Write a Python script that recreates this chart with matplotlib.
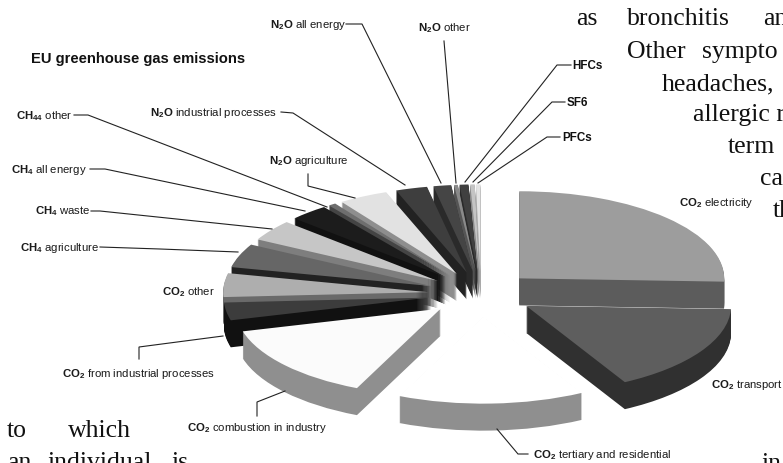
import matplotlib
matplotlib.use('Agg')
import matplotlib.pyplot as plt
import numpy as np

# --- Data ---
categories = ['CO2 electricity', 'CO2 transport', 'CO2 tertiary and residential',
              'CO2 combustion in industry', 'CO2 from industrial processes', 'CO2 other',
              'CH4 agriculture', 'CH4 waste', 'CH4 all energy', 'CH4 other',
              'N2O agriculture', 'N2O industrial processes', 'N2O all energy', 'N2O other',
              'HFCs', 'SF6', 'PFCs']
shares = [25.6, 16.4, 14.7, 14.1, 3.3, 4.4, 4.4, 3.9, 3.1, 0.6, 3.9, 2.5, 1.4, 0.3, 0.7, 0.35, 0.35]

# --- Style ---
face_colors = ['#9d9d9d', '#5e5e5e', '#ffffff', '#fbfbfb', '#3c3c3c', '#aeaeae',
               '#666666', '#c6c6c6', '#1c1c1c', '#6e6e6e', '#e2e2e2', '#3e3e3e',
               '#454545', '#8a8a8a', '#404040', '#c4c4c4', '#e4e4e4']
side_colors = ['#5c5c5c', '#303030', '#8f8f8f', '#8f8f8f', '#111111', '#6a6a6a',
               '#222222', '#7e7e7e', '#111111', '#444444', '#8e8e8e', '#222222',
               '#2a2a2a', '#555555', '#2a2a2a', '#8a8a8a', '#aaaaaa']

SQUASH = 0.425
RADIUS = 205
EXPLODE = 53
DEPTH = 27
CX, CY = 481, 295

plt.rcParams['mathtext.fontset'] = 'custom'
plt.rcParams['mathtext.bf'] = 'Liberation Sans:bold'
plt.rcParams['mathtext.rm'] = 'Liberation Sans'

fig = plt.figure(figsize=(7.83, 4.64), dpi=100, facecolor='white')
ax = fig.add_axes([0, 0, 1, 1])

# paint order: back of the pie first
vals = np.array(shares)
ends = np.cumsum(vals) / vals.sum() * 360
mids = 90 - (ends - vals / vals.sum() * 180)
order = np.argsort(np.argsort(-np.sin(np.radians(mids))))

# extrude by stacking pies, the top face comes last
for d in range(DEPTH, -1, -1):
    cols = side_colors if d > 0 else face_colors
    wedges, _ = ax.pie(vals, startangle=90, counterclock=False, radius=RADIUS,
                       center=(CX, (464 - CY - d) / SQUASH), explode=[EXPLODE] * len(vals),
                       colors=cols, wedgeprops={'linewidth': 0}, frame=True)
    for w, r in zip(wedges, order):
        w.set_zorder(r * 100 + (DEPTH - d))

ax.set_aspect('auto')
ax.set_xlim(0, 783)
ax.set_ylim(0, 464 / SQUASH)
ax.axis('off')

# overlay in pixel coordinates for the labels
ov = fig.add_axes([0, 0, 1, 1], facecolor='none')
ov.set_xlim(0, 783)
ov.set_ylim(464, 0)
ov.axis('off')

leaders = [
    [(346, 25), (362, 25), (441, 184)],
    [(444, 42), (456, 184)],
    [(571, 66), (557, 66), (465, 183)],
    [(565, 103), (552, 103), (473, 183)],
    [(560, 138), (547, 138), (478, 184)],
    [(281, 113), (293, 114), (405, 186)],
    [(308, 175), (308, 187), (355, 199)],
    [(74, 116), (88, 116), (327, 208)],
    [(90, 170), (105, 170), (305, 212)],
    [(91, 212), (100, 212), (272, 230)],
    [(100, 248), (160, 250), (238, 253)],
    [(139, 360), (139, 348), (223, 337)],
    [(257, 417), (257, 403), (285, 392)],
    [(528, 455), (518, 455), (497, 430)],
]
for pts in leaders:
    xs, ys = zip(*pts)
    ov.plot(xs, ys, color='#222222', lw=0.8, solid_joinstyle='miter')

labels = [
    (270, 25, r'$\mathbf{N_2O}$ all energy'),
    (418, 28, r'$\mathbf{N_2O}$ other'),
    (150, 113, r'$\mathbf{N_2O}$ industrial processes'),
    (269, 161, r'$\mathbf{N_2O}$ agriculture'),
    (16, 116, r'$\mathbf{CH_{44}}$ other'),
    (11, 170, r'$\mathbf{CH_4}$ all energy'),
    (35, 211, r'$\mathbf{CH_4}$ waste'),
    (20, 248, r'$\mathbf{CH_4}$ agriculture'),
    (162, 292, r'$\mathbf{CO_2}$ other'),
    (62, 374, r'$\mathbf{CO_2}$ from industrial processes'),
    (187, 428, r'$\mathbf{CO_2}$ combustion in industry'),
    (533, 455, r'$\mathbf{CO_2}$ tertiary and residential'),
    (711, 385, r'$\mathbf{CO_2}$ transport'),
    (679, 203, r'$\mathbf{CO_2}$ electricity'),
]
for x, y, s in labels:
    ov.text(x, y, s, fontsize=8.2, family='Liberation Sans', color='#1a1a1a', ha='left', va='center')

for x, y, s in [(572, 66, 'HFCs'), (567, 103, 'SF6'), (562, 138, 'PFCs')]:
    ov.text(x, y, s, fontsize=8.4, family='Liberation Sans', fontweight='bold', color='#111111',
            ha='left', va='center')

ov.text(31, 59, 'EU greenhouse gas emissions', fontsize=10.6, family='Liberation Sans',
        fontweight='bold', color='#111111', ha='left', va='center')

# page text running around the chart, cut by the page edge as in the scan
body = [(576, 25, 'as'), (627, 25, 'bronchitis'), (763, 25, 'an'),
        (627, 58, 'Other'), (702, 58, 'sympto'),
        (662, 90, 'headaches,'),
        (693, 121, 'allergic r'),
        (728, 153, 'term'),
        (760, 185, 'ca'),
        (773, 217, 'th'),
        (7, 437, 'to'), (68, 437, 'which'),
        (7, 469, 'an'), (48, 469, 'individual'), (172, 469, 'is'),
        (762, 470, 'in')]
for x, y, s in body:
    ov.text(x, y, s, fontsize=18.5, family='Liberation Serif', color='#111111', ha='left', va='baseline')

fig.savefig('out.png', dpi=100)
